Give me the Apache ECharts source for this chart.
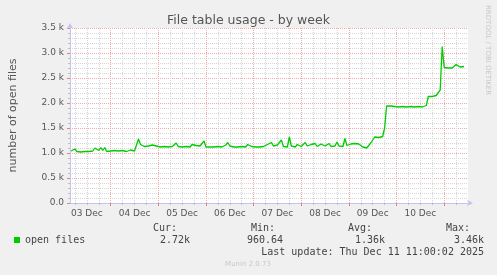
<!DOCTYPE html>
<html><head><meta charset="utf-8">
<script src="https://cdn.jsdelivr.net/npm/echarts@6/dist/echarts.min.js"></script>
<style>html,body{margin:0;padding:0;background:#f0f0f0;}#c{width:497px;height:275px;}</style>
</head><body><div id="c"></div>
<script>
// hourly samples, first one at 03 Dec 04:00 (hours counted from 03 Dec 00:00)
const startHour = 4;
const openFiles = [
  // 03 Dec 04..23
  1040,1060,1080,1030,1060,1020,1050,1030,1060,1030,1070,1040,1100,1060,1050,1110,1050,1110,1030,1050,
  // 04 Dec
  1040,1020,1050,1030,1040,1020,1050,1070,1030,1040,1060,1030,1040,1050,1280,1170,1160,1130,1170,1140,1120,1160,1130,1140,
  // 05 Dec
  1150,1120,1160,1130,1150,1120,1160,1130,1170,1200,1130,1150,1120,1160,1130,1150,1120,1170,1130,1150,1120,1140,1130,1240,
  // 06 Dec
  1120,1140,1120,1150,1120,1140,1130,1170,1120,1150,1160,1210,1140,1160,1120,1150,1120,1160,1130,1150,1120,1170,1190,1130,
  // 07 Dec
  1140,1120,1150,1120,1160,1130,1150,1170,1130,1210,1140,1120,1160,1180,1260,1130,1150,1120,1320,1140,1160,1120,1170,1140,
  // 08 Dec
  1130,1170,1210,1140,1120,1170,1140,1190,1130,1160,1180,1200,1140,1160,1190,1130,1170,1140,1220,1140,1170,1130,1290,1150,
  // 09 Dec
  1160,1180,1150,1190,1150,1180,1140,1120,1090,1100,1080,1200,1220,1320,1340,1310,1340,1330,1500,1940,1930,1940,1920,1930,
  // 10 Dec
  1930,1920,1940,1930,1930,1920,1940,1930,1930,1920,1940,1930,1930,1920,1930,1950,2130,2140,2130,2170,2150,2180,2260,3130,
  // 11 Dec 00..10
  2710,2710,2700,2710,2700,2690,2770,2740,2720,2730,2730
];
const rangeStart = 3.5, rangeEnd = 204;
const dayLabels = ['03 Dec','04 Dec','05 Dec','06 Dec','07 Dec','08 Dec','09 Dec','10 Dec'];
const dayLabelHours = [12,36,60,84,108,132,156,180];
const dayBoundaryHours = [24,48,72,96,120,144,168,192];
const sixHourHours = [6,12,18,30,36,42,54,60,66,78,84,90,102,108,114,126,132,138,150,156,162,174,180,186,198];
const statLabels = ['Cur:','Min:','Avg:','Max:'];
const statValues = ['2.72k','960.64','1.36k','3.46k'];
const statRightX = [177,275,372,470];
const valueRightX = [190,283,385,484];
const seriesName = 'open files';
const lastUpdate = 'Last update: Thu Dec 11 11:00:02 2025';

const chart = echarts.init(document.getElementById('c'), null, {renderer:'canvas'});
const data = openFiles.map((v,i)=>[startHour+i, v]);
const mono = 'DejaVu Sans Mono';
const sans = 'DejaVu Sans';
const axisCol = '#c4c4f4';
const majorCol = '#f0aaaa';
const minorCol = '#d6d6d6';

const graphics = [];
statLabels.forEach((s,i)=>{
  graphics.push({type:'text', style:{text:s, x:statRightX[i], y:228, textAlign:'right', textVerticalAlign:'middle', font:'10px '+mono, fill:'#444'}});
  graphics.push({type:'text', style:{text:statValues[i], x:valueRightX[i], y:240, textAlign:'right', textVerticalAlign:'middle', font:'10px '+mono, fill:'#444'}});
});
graphics.push({type:'text', style:{text:lastUpdate, x:484, y:252, textAlign:'right', textVerticalAlign:'middle', font:'10px '+mono, fill:'#444'}});
graphics.push({type:'text', style:{text:'Munin 2.0.73', x:248, y:264, textAlign:'center', textVerticalAlign:'middle', font:'7px '+sans, fill:'#c8c8c8'}});
graphics.push({type:'text', x:488, y:5, rotation:-Math.PI/2, style:{text:'RRDTOOL / TOBI OETIKER', x:0, y:0, textAlign:'left', textVerticalAlign:'middle', font:'7px '+sans, fill:'#c8c8c8'}});

chart.setOption({
  backgroundColor:'#f0f0f0',
  animation:false,
  title:{text:'File table usage - by week', left:'center', top:9, textStyle:{fontFamily:sans, fontSize:12.5, fontWeight:'normal', color:'#555'}},
  legend:{data:[seriesName], left:14, top:235, padding:0, icon:'rect', itemWidth:6, itemHeight:6,
    textStyle:{fontFamily:mono, fontSize:10, color:'#444'}},
  grid:{left:67, right:29, top:28, bottom:72, backgroundColor:'#ffffff', show:true, borderWidth:0},
  xAxis:[{
    type:'value', min:rangeStart, max:rangeEnd,
    axisLine:{show:true, onZero:false, lineStyle:{color:axisCol, width:1}, symbol:['none','arrow'], symbolSize:[5,6], symbolOffset:[0,5]},
    axisTick:{show:true, customValues:dayBoundaryHours, length:3, lineStyle:{color:'#e08080'}},
    axisLabel:{customValues:dayLabelHours, formatter:v=>dayLabels[dayLabelHours.indexOf(v)], fontFamily:sans, fontSize:9, color:'#555', margin:6},
    splitLine:{show:true, lineStyle:{color:majorCol, type:[1,1], width:1}}
  },{
    type:'value', min:rangeStart, max:rangeEnd, position:'bottom',
    axisLine:{show:false},
    axisTick:{show:true, customValues:sixHourHours, length:2, lineStyle:{color:'#c0c0c0'}},
    axisLabel:{show:false},
    splitLine:{show:true, lineStyle:{color:minorCol, type:[1,1], width:1}}
  }],
  yAxis:{
    type:'value', min:0, max:3500, interval:500,
    name:'number of open files', nameLocation:'middle', nameGap:51,
    nameTextStyle:{fontFamily:sans, fontSize:11, color:'#555'},
    axisLine:{show:true, onZero:false, lineStyle:{color:axisCol, width:1}, symbol:['none','arrow'], symbolSize:[5,6], symbolOffset:[0,5]},
    axisTick:{show:true, length:3, lineStyle:{color:'#e08080'}},
    minorTick:{show:true, splitNumber:5, length:2, lineStyle:{color:'#c0c0c0'}},
    axisLabel:{formatter:v=>v===0?'0.0':(v/1000).toFixed(1)+' k', fontFamily:sans, fontSize:9, color:'#555', margin:6},
    splitLine:{show:true, lineStyle:{color:majorCol, type:[1,1], width:1}},
    minorSplitLine:{show:true, lineStyle:{color:minorCol, type:[1,1], width:1}}
  },
  series:[{
    name:seriesName, type:'line', data:data, xAxisIndex:0, showSymbol:false, symbol:'none',
    lineStyle:{color:'#00cc00', width:1.3}, itemStyle:{color:'#00cc00'}, z:5
  }],
  graphic:graphics
});
</script></body></html>
